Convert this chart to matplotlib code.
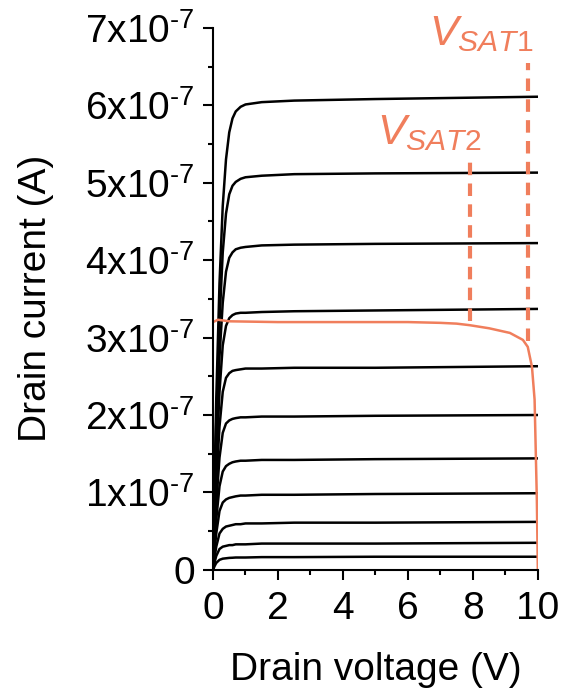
import numpy as np
import matplotlib.pyplot as plt
from matplotlib.ticker import MultipleLocator

plt.rcParams['font.family'] = ['Liberation Sans', 'DejaVu Sans']
plt.rcParams['mathtext.fontset'] = 'custom'
plt.rcParams['mathtext.rm'] = 'Liberation Sans'
plt.rcParams['mathtext.it'] = 'Liberation Sans:italic'
plt.rcParams['mathtext.default'] = 'regular'

# drain voltage sample points (V)
vd = [0, 0.05, 0.1, 0.2, 0.3, 0.4, 0.5, 0.6, 0.7, 0.85, 1.0, 1.5, 2.5, 5, 10]

# output curves, drain current in units of 1e-7 A
id_curves = [
    [0, 1.2, 2.2, 3.7, 4.7, 5.3, 5.65, 5.83, 5.92, 5.98, 6.01, 6.04, 6.06, 6.08, 6.11],
    [0, 1.0, 1.9, 3.2, 4.1, 4.6, 4.85, 4.96, 5.01, 5.05, 5.07, 5.09, 5.11, 5.12, 5.13],
    [0, 0.85, 1.6, 2.75, 3.45, 3.85, 4.03, 4.10, 4.14, 4.16, 4.17, 4.19, 4.20, 4.21, 4.22],
    [0, 0.7, 1.35, 2.3, 2.9, 3.15, 3.25, 3.29, 3.31, 3.32, 3.32, 3.33, 3.34, 3.35, 3.37],
    [0, 0.55, 1.1, 1.85, 2.3, 2.48, 2.54, 2.57, 2.58, 2.59, 2.60, 2.60, 2.61, 2.61, 2.63],
    [0, 0.45, 0.85, 1.45, 1.77, 1.89, 1.93, 1.95, 1.96, 1.97, 1.97, 1.98, 1.98, 1.99, 2.00],
    [0, 0.35, 0.65, 1.08, 1.27, 1.34, 1.37, 1.39, 1.40, 1.41, 1.41, 1.42, 1.42, 1.43, 1.44],
    [0, 0.25, 0.47, 0.76, 0.87, 0.91, 0.93, 0.94, 0.95, 0.96, 0.96, 0.97, 0.97, 0.98, 0.99],
    [0, 0.16, 0.3, 0.47, 0.53, 0.56, 0.57, 0.58, 0.59, 0.59, 0.60, 0.60, 0.61, 0.61, 0.62],
    [0, 0.1, 0.18, 0.27, 0.30, 0.31, 0.32, 0.32, 0.33, 0.33, 0.33, 0.34, 0.34, 0.34, 0.35],
    [0, 0.05, 0.09, 0.13, 0.145, 0.15, 0.155, 0.157, 0.16, 0.16, 0.16, 0.165, 0.165, 0.17, 0.17],
]

# highlighted curve (orange)
vd_hl = [0, 0.15, 0.5, 2, 4, 6, 7, 7.5, 7.9, 8.5, 9.14, 9.54, 9.69, 9.82, 9.9, 9.97, 10]
id_hl = [3.20, 3.23, 3.21, 3.20, 3.20, 3.20, 3.19, 3.18, 3.16, 3.12, 3.06, 2.97, 2.88, 2.62, 2.2, 0.9, 0]

# saturation markers: (x, y bottom, y top)
vsat1 = (9.69, 2.95, 6.55)
vsat2 = (7.9, 3.22, 5.3)

orange = '#F07E5C'

fig = plt.figure(figsize=(5.62, 6.95), dpi=100)
ax = fig.add_axes([0.379, 0.180, 0.578, 0.780])

for cur in id_curves:
    ax.plot(vd, np.array(cur) * 1e-7, color='black', lw=1.8)
ax.plot(vd_hl, np.array(id_hl) * 1e-7, color=orange, lw=1.8)

for x, y0, y1 in [vsat1, vsat2]:
    ax.plot([x, x], [y0 * 1e-7, y1 * 1e-7], color=orange, lw=3, ls=(0, (3, 2)))

ax.text(9.87, 6.66e-7, r'$\mathit{V}_{\mathit{SAT1}}$', color=orange,
        fontsize=31, ha='right', va='bottom')
ax.text(8.27, 5.38e-7, r'$\mathit{V}_{\mathit{SAT2}}$', color=orange,
        fontsize=31, ha='right', va='bottom')

ax.set_xlim(0, 10)
ax.set_ylim(0, 7e-7)
ax.xaxis.set_minor_locator(MultipleLocator(1))
ax.yaxis.set_minor_locator(MultipleLocator(0.5e-7))
ax.set_xticks(range(0, 11, 2))
ax.set_xticklabels([str(v) for v in range(0, 11, 2)])
ylabels = ['0'] + [f'{i}x10' + r'$^{\text{-7}}$' for i in range(1, 8)]
ax.set_yticks([i * 1e-7 for i in range(8)])
ax.set_yticklabels(ylabels)

for s in ['top', 'right']:
    ax.spines[s].set_visible(False)
for s in ['left', 'bottom']:
    ax.spines[s].set_linewidth(1.5)
ax.tick_params(which='major', direction='out', length=7, width=1.5, labelsize=28)
ax.tick_params(axis='y', which='major', pad=6)
ax.tick_params(axis='x', which='major', pad=8)
ax.tick_params(which='minor', direction='out', length=3.5, width=1.5)

ax.set_xlabel('Drain voltage (V)', fontsize=28)
ax.set_ylabel('Drain current (A)', fontsize=28)
ax.xaxis.set_label_coords(0.5, -0.152)
ax.yaxis.set_label_coords(-0.49, 0.5)

fig.savefig('out.png', dpi=100)
